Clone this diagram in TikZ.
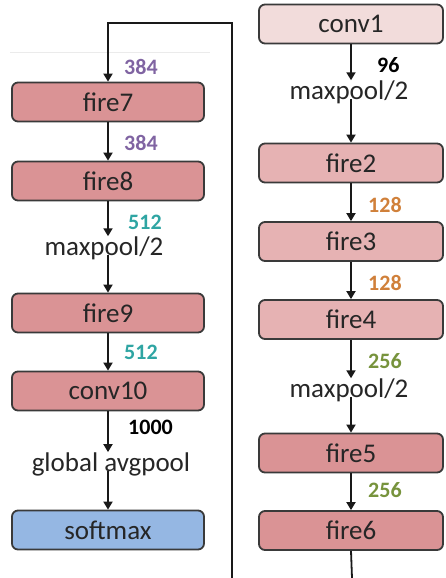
\documentclass[tikz,border=0pt]{standalone}
\usepackage{fontspec}
\setmainfont{Carlito}
\usetikzlibrary{arrows.meta}
\definecolor{boxline}{HTML}{3A3A3A}
\definecolor{pinkA}{HTML}{F2DCDB}
\definecolor{pinkB}{HTML}{E6B2B3}
\definecolor{pinkC}{HTML}{DA9395}
\definecolor{blueA}{HTML}{95B7E3}
\definecolor{numPurple}{HTML}{8064A2}
\definecolor{numTeal}{HTML}{2FA5A3}
\definecolor{numOrange}{HTML}{D0803A}
\definecolor{numGreen}{HTML}{77933C}
\tikzset{
  layer/.style={draw=boxline, line width=1.8pt, rounded corners=6pt,
    minimum height=39pt, inner sep=0pt, text=black!85,
    font=\fontsize{27}{30}\selectfont},
  leftbox/.style={layer, minimum width=192pt},
  rightbox/.style={layer, minimum width=184pt},
  optext/.style={inner sep=0pt, text=black!85, font=\fontsize{27}{30}\selectfont},
  chan/.style={anchor=west, inner sep=0pt, font=\fontsize{22}{24}\selectfont\bfseries},
  link/.style={line width=1.8pt, draw=black!90},
  arr/.style={link, -{Triangle[length=8pt,width=9pt]}},
}
\begin{document}
\begin{tikzpicture}[x=1pt,y=-1pt]
\useasboundingbox (0,0) rectangle (445,578);

% faint rule near the top
\draw[black!8, line width=1pt] (10,53) -- (210,53);

% right column: conv1 ... fire6
\node[rightbox, fill=pinkA] (conv1) at (351,24)    {conv1};
\node[optext] (mpA) at (349,92) {maxpool/2};
\node[rightbox, fill=pinkB] (fire2) at (351,163)   {fire2};
\node[rightbox, fill=pinkB] (fire3) at (351,241.5) {fire3};
\node[rightbox, fill=pinkB] (fire4) at (351,319.5) {fire4};
\node[optext] (mpB) at (349,390) {maxpool/2};
\node[rightbox, fill=pinkC] (fire5) at (351,453)   {fire5};
\node[rightbox, fill=pinkC] (fire6) at (351,530.5) {fire6};

% left column: fire7 ... softmax
\node[leftbox, fill=pinkC] (fire7) at (108,102)  {fire7};
\node[leftbox, fill=pinkC] (fire8) at (108,181)  {fire8};
\node[optext] (mpC) at (104,248) {maxpool/2};
\node[leftbox, fill=pinkC] (fire9) at (108,313)  {fire9};
\node[leftbox, fill=pinkC] (conv10) at (108,391) {conv10};
\node[optext] (gap) at (111,464) {global avgpool};
\node[leftbox, fill=blueA] (softmax) at (108,530) {softmax};

% right column connectors
\draw[arr] (conv1.south) -- (conv1.south |- mpA.north);
\draw[arr] (fire2.north |- mpA.base) -- (fire2.north);
\draw[arr] (fire2.south) -- (fire3.north);
\draw[arr] (fire3.south) -- (fire4.north);
\draw[arr] (fire4.south) -- (fire4.south |- mpB.north);
\draw[arr] (fire5.north |- mpB.base) -- (fire5.north);
\draw[arr] (fire5.south) -- (fire6.north);
\coordinate (outR) at (352,578);
\draw[link] (fire6.south) -- (outR);

% wrap-around into the left column
\coordinate (wrapB) at (232,578);
\coordinate (wrapT) at (232,23);
\draw[arr] (wrapB) -- (wrapT) -| (fire7.north);

% left column connectors
\draw[arr] (fire7.south) -- (fire8.north);
\draw[arr] (fire8.south) -- (fire8.south |- mpC.north);
\draw[arr] (fire9.north |- mpC.base) -- (fire9.north);
\draw[arr] (fire9.south) -- (conv10.north);
\draw[arr] (conv10.south) -- (conv10.south |- gap.north);
\draw[arr] (softmax.north |- gap.base) -- (softmax.north);

% channel counts
\node[chan, text=black]     at (377,65)  {96};
\node[chan, text=numOrange] at (368,205) {128};
\node[chan, text=numOrange] at (368,283) {128};
\node[chan, text=numGreen]  at (368,361) {256};
\node[chan, text=numGreen]  at (368,490) {256};
\node[chan, text=numPurple] at (124,67)  {384};
\node[chan, text=numPurple] at (124,143) {384};
\node[chan, text=numTeal]   at (128,222) {512};
\node[chan, text=numTeal]   at (124,352) {512};
\node[chan, text=black]     at (128,427) {1000};
\end{tikzpicture}
\end{document}
